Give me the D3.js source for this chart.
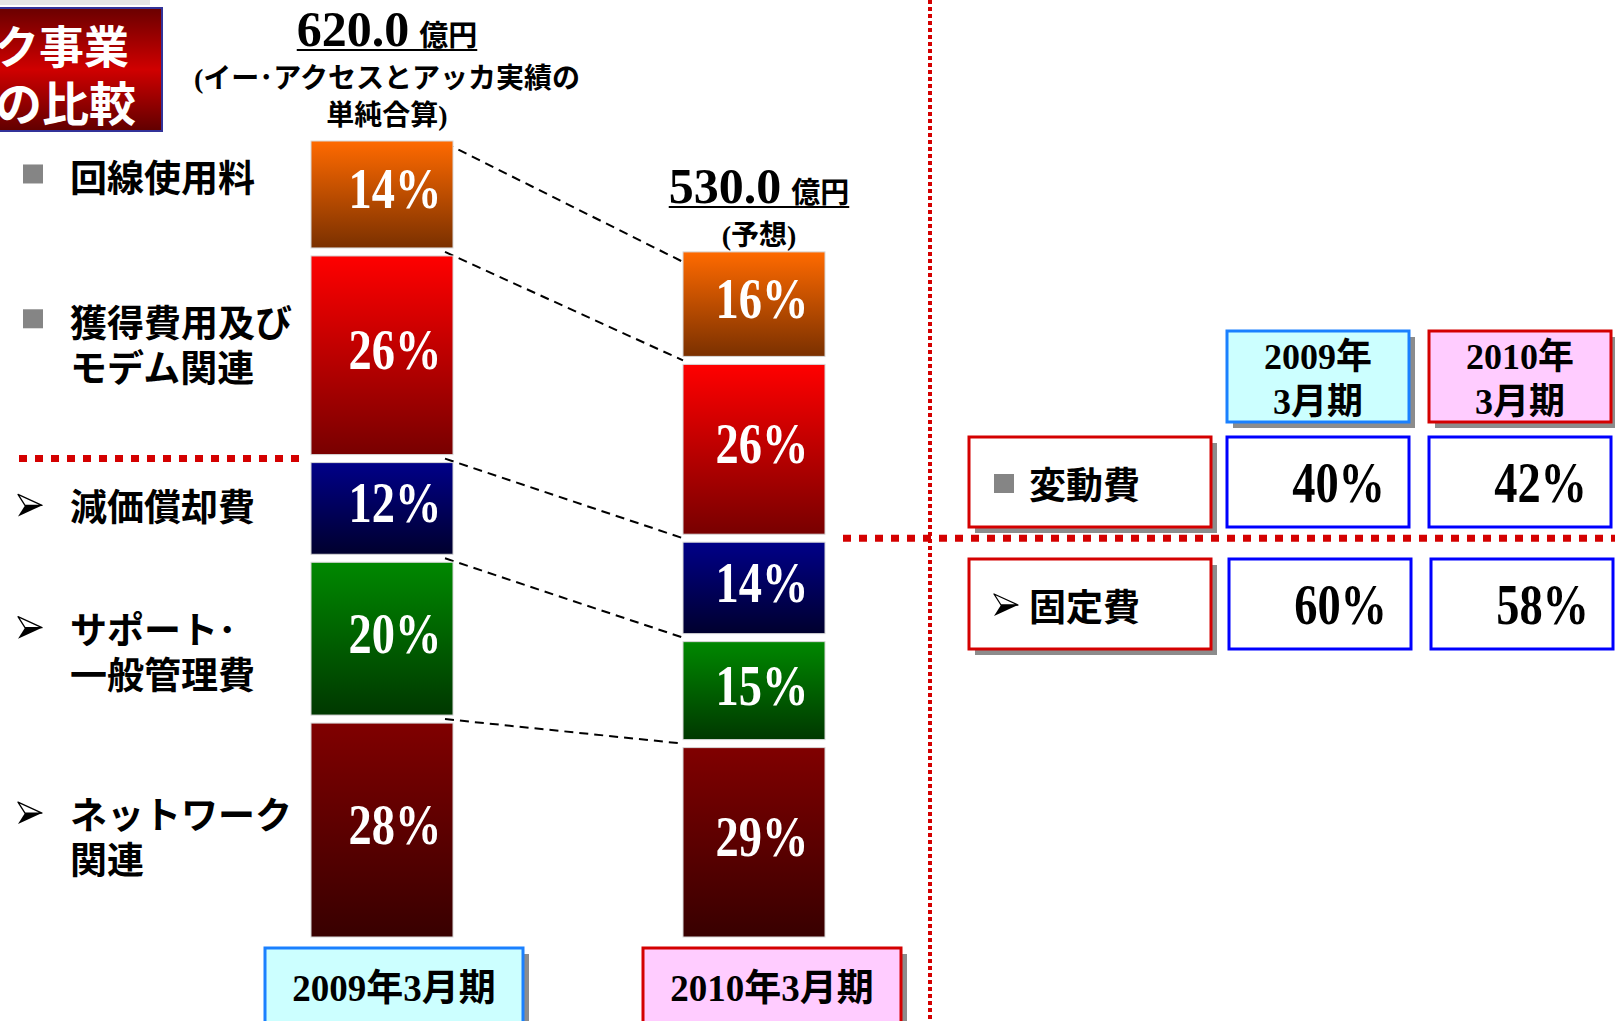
<!DOCTYPE html>
<html>
<head>
<meta charset="utf-8">
<script src="https://cdn.jsdelivr.net/npm/d3@7"></script>
<style>
  body { margin: 0; background: #fff; overflow: hidden; }
  svg { display: block; }
</style>
</head>
<body>
<script>
// data
const categories = ["回線使用料", "獲得費用及びモデム関連", "減価償却費", "サポート･一般管理費", "ネットワーク関連"];
const categoryLines = [["回線使用料"], ["獲得費用及び", "モデム関連"], ["減価償却費"], ["サポート･", "一般管理費"], ["ネットワーク", "関連"]];
const costKind = ["variable", "variable", "fixed", "fixed", "fixed"];
const periods = ["2009年3月期", "2010年3月期"];
const periodLines = [["2009年", "3月期"], ["2010年", "3月期"]];
const totals = [620.0, 530.0];
const totalNotes = [["(イー･アクセスとアッカ実績の", "単純合算)"], ["(予想)"]];
const shares2009 = [14, 26, 12, 20, 28];
const shares2010 = [16, 26, 14, 15, 29];
const costTypes = ["変動費", "固定費"];
const variableShare = [40, 42];
const fixedShare = [60, 58];

const width = 1615, height = 1021;
const svg = d3.select("body").append("svg")
    .attr("width", width)
    .attr("height", height);

const SANS = "'Noto Sans CJK JP', 'Noto Sans', sans-serif";
const MIX = "'Liberation Serif', 'Noto Sans CJK JP', serif";
const SERIF = "'Liberation Serif', serif";

// gradients for the segments
const segColors = [["#ff6a00", "#7a3000"], ["#ff0000", "#780000"], ["#000088", "#00002e"], ["#008800", "#003800"], ["#800000", "#380000"]];
const defs = svg.append("defs");
segColors.forEach((c, i) => {
    let g = defs.append("linearGradient").attr("id", "seg" + i)
        .attr("x1", 0).attr("y1", 0).attr("x2", 0).attr("y2", 1);
    g.append("stop").attr("offset", "0%").attr("stop-color", c[0]);
    g.append("stop").attr("offset", "100%").attr("stop-color", c[1]);
});
let tg = defs.append("linearGradient").attr("id", "titleGrad")
    .attr("x1", 0).attr("y1", 0).attr("x2", 0).attr("y2", 1);
tg.append("stop").attr("offset", "0%").attr("stop-color", "#6a0000");
tg.append("stop").attr("offset", "50%").attr("stop-color", "#d00000");
tg.append("stop").attr("offset", "100%").attr("stop-color", "#600000");

// scales
const baseY = 937, gap = 8;
const x = d3.scalePoint().domain(periods).range([382, 754]);
const xBox = d3.scalePoint().domain(periods).range([394, 772]);
const h = d3.scaleLinear().domain([0, 620]).range([0, 764]);
const barW = 142;

// stack segments from the bottom up
const allShares = [shares2009, shares2010];
const bars = periods.map((p, bi) => {
    let y = baseY;
    let segs = [];
    for (let i = categories.length - 1; i >= 0; i--) {
        let hh = h(totals[bi] * allShares[bi][i] / 100);
        segs[i] = {period: p, bar: bi, idx: i, value: allShares[bi][i], y0: y - hh, y1: y};
        y = y - hh - gap;
    }
    return {period: p, total: totals[bi], segs: segs, top: segs[0].y0};
});

// title box (clipped at the left edge of the slide)
svg.append("rect").attr("x", 0).attr("y", 0).attr("width", 150).attr("height", 5).attr("fill", "#e4e4e4");
svg.append("rect").attr("x", -10).attr("y", 8).attr("width", 172).attr("height", 123)
    .attr("fill", "url(#titleGrad)").attr("stroke", "#333399").attr("stroke-width", 2);
svg.append("text").attr("x", 129).attr("y", 64).attr("text-anchor", "end")
    .attr("font-family", SANS).attr("font-weight", 700).attr("font-size", 45).attr("fill", "#fff").text("ク事業");
svg.append("text").attr("x", 136).attr("y", 121).attr("text-anchor", "end")
    .attr("font-family", SANS).attr("font-weight", 700).attr("font-size", 47).attr("fill", "#fff").text("の比較");

// dashed connectors between the bars
const x1 = x(periods[0]) + barW / 2, x2 = x(periods[1]) - barW / 2;
for (let i = 0; i < categories.length; i++) {
    let ya = i == 0 ? bars[0].segs[0].y0 + 2 : bars[0].segs[i].y0 - gap / 2;
    let yb = i == 0 ? bars[1].segs[0].y0 + 10 : bars[1].segs[i].y0 - gap / 2;
    svg.append("line")
        .attr("x1", x1 - 8).attr("y1", ya).attr("x2", x2).attr("y2", yb)
        .attr("stroke", "#000").attr("stroke-width", 2).attr("stroke-dasharray", "9,6");
}

// bars
const noteGap = [16, 7];
const labelShift = [13, 8];
bars.forEach((b, bi) => {
    let g = svg.append("g");
    g.selectAll("rect").data(b.segs).enter().append("rect")
        .attr("x", x(b.period) - barW / 2)
        .attr("y", d => d.y0)
        .attr("width", barW)
        .attr("height", d => d.y1 - d.y0)
        .attr("fill", d => "url(#seg" + d.idx + ")")
        .attr("stroke", "#d8d8d8").attr("stroke-width", 1);
    g.selectAll("text").data(b.segs).enter().append("text")
        .attr("transform", d => "translate(" + (x(b.period) + labelShift[bi]) + "," + ((d.y0 + d.y1) / 2 + 14) + ") scale(0.8,1)")
        .attr("text-anchor", "middle")
        .attr("font-family", SERIF).attr("font-weight", 700)
        .attr("font-size", 58).attr("fill", "#fff")
        .text(d => d.value + "%");

    // totals above each bar
    let notes = totalNotes[bi];
    let n = notes.length;
    let cx = x(b.period) + 5;
    notes.forEach((t, i) => {
        svg.append("text").attr("x", cx).attr("y", b.top - noteGap[bi] - (n - 1 - i) * 37)
            .attr("text-anchor", "middle").attr("font-family", MIX).attr("font-weight", 700)
            .attr("font-size", 28).attr("fill", "#000").text(t);
    });
    let ty = b.top - noteGap[bi] - (n - 1) * 37 - 42;
    let tt = svg.append("text").attr("x", cx).attr("y", ty).attr("text-anchor", "middle")
        .attr("fill", "#000").attr("font-weight", 700);
    tt.append("tspan").attr("font-family", SERIF).attr("font-size", 50).text(d3.format(".1f")(b.total));
    tt.append("tspan").attr("font-family", SANS).attr("font-size", 29).attr("dx", 10).text("億円");
    let bb = tt.node().getBBox();
    svg.append("line").attr("x1", bb.x).attr("x2", bb.x + bb.width)
        .attr("y1", ty + 4).attr("y2", ty + 4).attr("stroke", "#000").attr("stroke-width", 2);
});

// period boxes below the bars
const periodFill = ["#ccffff", "#ffccff"], periodStroke = ["#1a80ff", "#d40000"];
periods.forEach((p, i) => {
    let bx = xBox(p) - 129;
    svg.append("rect").attr("x", bx + 6).attr("y", 954).attr("width", 258).attr("height", 90).attr("fill", "#8c8c8c");
    svg.append("rect").attr("x", bx).attr("y", 948).attr("width", 258).attr("height", 90)
        .attr("fill", periodFill[i]).attr("stroke", periodStroke[i]).attr("stroke-width", 3);
    svg.append("text").attr("x", bx + 129).attr("y", 1001).attr("text-anchor", "middle")
        .attr("font-family", MIX).attr("font-weight", 700).attr("font-size", 37).attr("fill", "#000").text(p);
});

// markers
function square(g, mx, my) {
    g.append("rect").attr("x", mx).attr("y", my).attr("width", 20).attr("height", 19).attr("fill", "#858585");
}
function arrow(g, mx, my) {
    g.append("path").attr("d", `M${mx},${my} L${mx + 24},${my + 11} L${mx + 7},${my + 11} Z`)
        .attr("fill", "#fff").attr("stroke", "#000").attr("stroke-width", 1.3).attr("stroke-linejoin", "round");
    g.append("path").attr("d", `M${mx + 7},${my + 11} L${mx + 24},${my + 11} L${mx},${my + 22} Z`)
        .attr("fill", "#000");
}

// category labels to the left of the first bar
const labelNudge = [-15, -9, 0, 14, 8];
const lg = svg.append("g");
categoryLines.forEach((lines, i) => {
    let s = bars[0].segs[i];
    let mid = (s.y0 + s.y1) / 2 + labelNudge[i];
    let firstBase = mid + 13 - (lines.length - 1) * 22;
    if (costKind[i] == "variable") square(lg, 23, firstBase - 28);
    else arrow(lg, 18, firstBase - 27);
    lines.forEach((t, j) => {
        lg.append("text").attr("x", 70).attr("y", firstBase + j * 45)
            .attr("font-family", SANS).attr("font-weight", 700).attr("font-size", 37).attr("fill", "#000").text(t);
    });
});

// red dotted separators
const splitLeft = bars[0].segs[2].y0 - gap / 2;
const splitRight = bars[1].segs[2].y0 - gap / 2;
svg.append("line").attr("x1", 19).attr("x2", 300).attr("y1", splitLeft).attr("y2", splitLeft)
    .attr("stroke", "#d40000").attr("stroke-width", 7).attr("stroke-dasharray", "8,8");
svg.append("line").attr("x1", 843).attr("x2", width).attr("y1", splitRight).attr("y2", splitRight)
    .attr("stroke", "#d40000").attr("stroke-width", 7).attr("stroke-dasharray", "8,8");
svg.append("line").attr("x1", 930).attr("x2", 930).attr("y1", 0).attr("y2", height)
    .attr("stroke", "#d40000").attr("stroke-width", 4).attr("stroke-dasharray", "4,3");

// summary table on the right
const colX = [1227, 1429], colW = 182;
const rowY = [437, 559], rowH = 90;
const tbl = svg.append("g");
periodLines.forEach((lines, i) => {
    tbl.append("rect").attr("x", colX[i] + 6).attr("y", 337).attr("width", colW).attr("height", 91).attr("fill", "#8c8c8c");
    tbl.append("rect").attr("x", colX[i]).attr("y", 331).attr("width", colW).attr("height", 91)
        .attr("fill", periodFill[i]).attr("stroke", periodStroke[i]).attr("stroke-width", 3);
    lines.forEach((t, j) => {
        tbl.append("text").attr("x", colX[i] + colW / 2).attr("y", 369 + j * 45).attr("text-anchor", "middle")
            .attr("font-family", MIX).attr("font-weight", 700).attr("font-size", 36).attr("fill", "#000").text(t);
    });
});
const tableValues = [variableShare, fixedShare];
costTypes.forEach((c, r) => {
    let y0 = rowY[r];
    tbl.append("rect").attr("x", 975).attr("y", y0 + 6).attr("width", 242).attr("height", rowH).attr("fill", "#8c8c8c");
    tbl.append("rect").attr("x", 969).attr("y", y0).attr("width", 242).attr("height", rowH)
        .attr("fill", "#fff").attr("stroke", "#d40000").attr("stroke-width", 3);
    if (r == 0) square(tbl, 994, y0 + 37);
    else arrow(tbl, 994, y0 + 35);
    tbl.append("text").attr("x", 1029).attr("y", y0 + 62)
        .attr("font-family", SANS).attr("font-weight", 700).attr("font-size", 37).attr("fill", "#000").text(c);
    tableValues[r].forEach((v, i) => {
        let bx = colX[i] + r * 2;
        tbl.append("rect").attr("x", bx).attr("y", y0).attr("width", colW).attr("height", rowH)
            .attr("fill", "#fff").attr("stroke", "#0000ff").attr("stroke-width", 3);
        tbl.append("text")
            .attr("transform", "translate(" + (bx + colW - 24) + "," + (y0 + 65) + ") scale(0.8,1)")
            .attr("text-anchor", "end")
            .attr("font-family", SERIF).attr("font-weight", 700)
            .attr("font-size", 58).attr("fill", "#000").text(v + "%");
    });
});
</script>
</body>
</html>
